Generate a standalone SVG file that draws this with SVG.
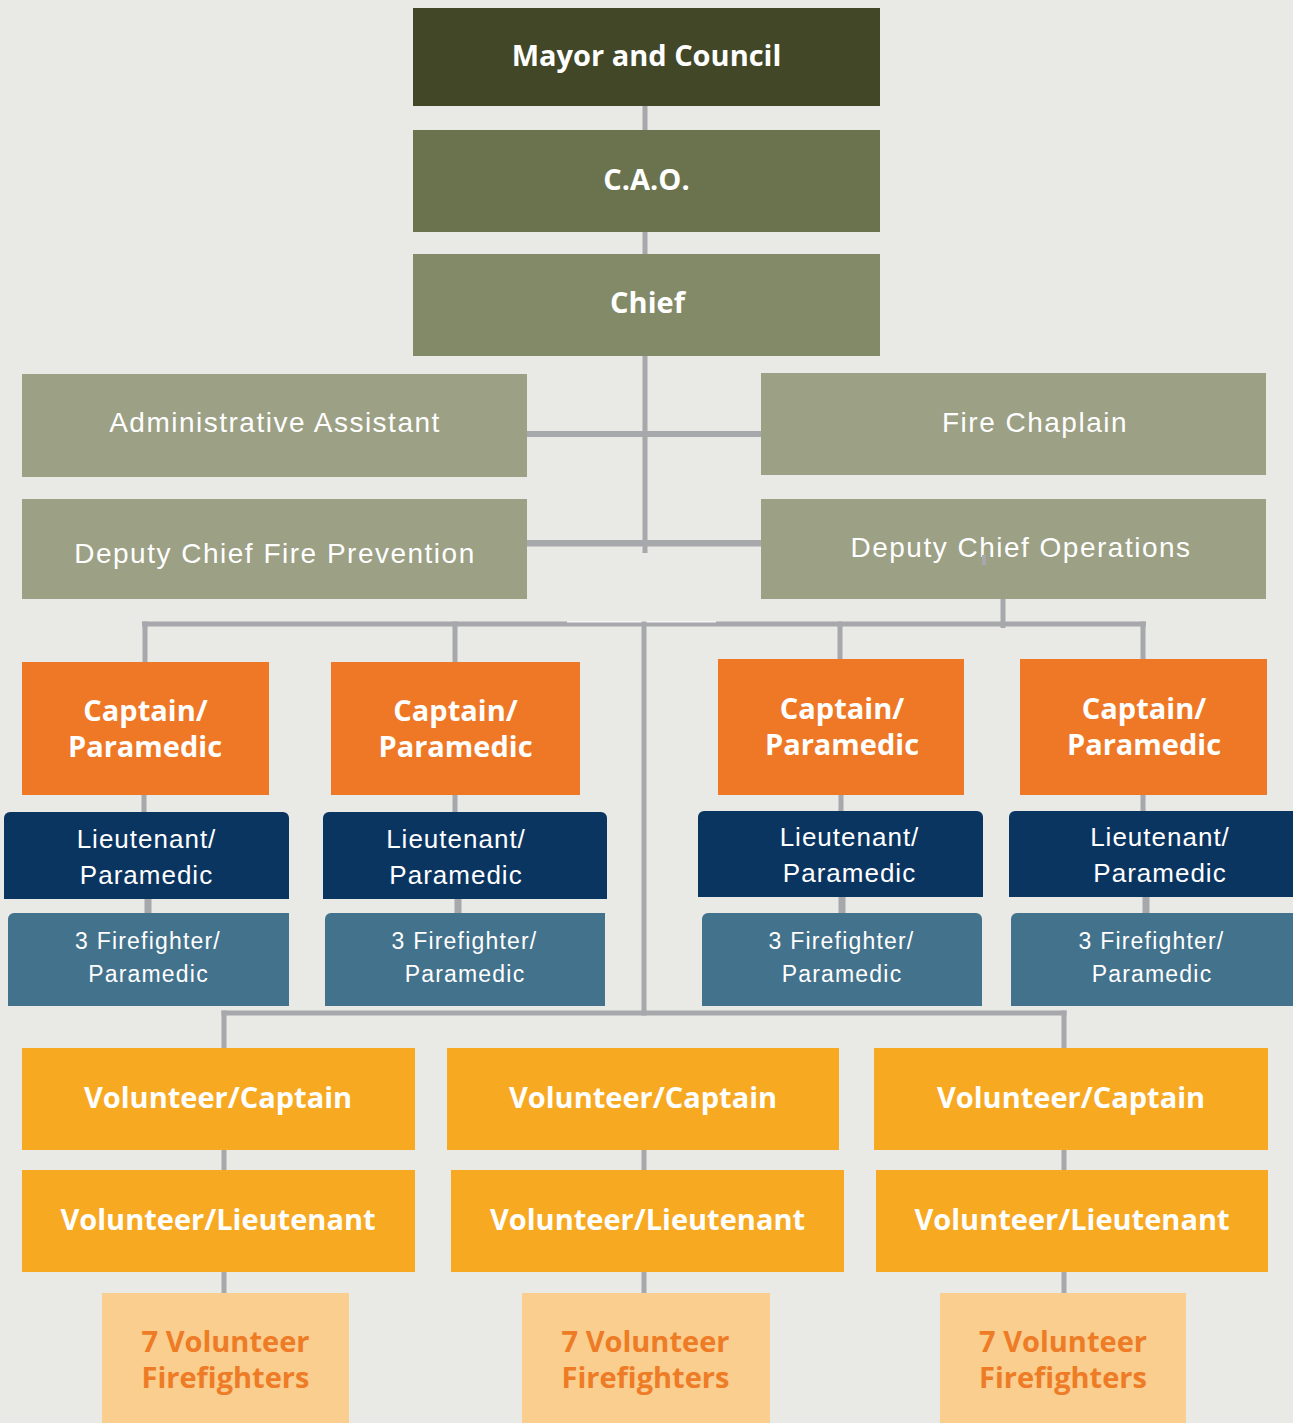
<svg xmlns="http://www.w3.org/2000/svg" width="1293" height="1423" viewBox="0 0 1293 1423">
<style>
.bold{font-family:"Open Sans","Liberation Sans",sans-serif;font-weight:700;font-size:29px;fill:#ffffff;text-anchor:middle}
.reg{font-family:"Liberation Sans","Arial",sans-serif;font-size:28px;fill:#ffffff;text-anchor:middle;letter-spacing:1.5px}
.lt{font-family:"Liberation Sans","Arial",sans-serif;font-size:26px;fill:#ffffff;text-anchor:middle;letter-spacing:1px}
.ff{font-family:"Liberation Sans","Arial",sans-serif;font-size:23px;fill:#ffffff;text-anchor:middle;letter-spacing:1.2px}
.vff{font-family:"Open Sans","Liberation Sans",sans-serif;font-weight:700;font-size:29px;fill:#ee7b25;text-anchor:middle}
.c{fill:#a7a8ac}
</style>
<rect x="0" y="0" width="1293" height="1423" fill="#e9e9e5"/>
<g id="mayor"><rect x="413" y="8" width="467" height="98" fill="#414727"/><text class="bold" x="646.5" y="66">Mayor and Council</text></g>
<g id="cao"><rect x="413" y="130" width="467" height="102" fill="#6a734d"/><text class="bold" x="646.5" y="190">C.A.O.</text></g>
<g id="chief"><rect x="413" y="254" width="467" height="102" fill="#838a68"/><text class="bold" x="647.5" y="313">Chief</text></g>
<g id="admin"><rect x="22" y="374" width="505" height="103" fill="#9ca085"/><text class="reg" x="275" y="432">Administrative Assistant</text></g>
<g id="chaplain"><rect x="761" y="373" width="505" height="102" fill="#9ca085"/><text class="reg" x="1035" y="432">Fire Chaplain</text></g>
<g id="dep-prev"><rect x="22" y="499" width="505" height="100" fill="#9ca085"/><text class="reg" x="275" y="563">Deputy Chief Fire Prevention</text></g>
<g id="dep-ops"><rect x="761" y="499" width="505" height="100" fill="#9ca085"/><text class="reg" x="1021" y="557">Deputy Chief Operations</text></g>
<g id="cap1"><rect x="22" y="662" width="247" height="133" fill="#ef7826"/><text class="bold" x="145.5" y="721">Captain/</text><text class="bold" x="145" y="757">Paramedic</text></g>
<g id="cap2"><rect x="331" y="662" width="249" height="133" fill="#ef7826"/><text class="bold" x="455.5" y="721">Captain/</text><text class="bold" x="455.5" y="757">Paramedic</text></g>
<g id="cap3"><rect x="718" y="659" width="246" height="136" fill="#ef7826"/><text class="bold" x="842" y="719">Captain/</text><text class="bold" x="842" y="755">Paramedic</text></g>
<g id="cap4"><rect x="1020" y="659" width="247" height="136" fill="#ef7826"/><text class="bold" x="1144" y="719">Captain/</text><text class="bold" x="1144" y="755">Paramedic</text></g>
<g id="lt1"><path d="M4 899V818a6 6 0 0 1 6-6H283a6 6 0 0 1 6 6V899Z" fill="#0b3561"/><text class="lt" x="146.5" y="848">Lieutenant/</text><text class="lt" x="146.5" y="884">Paramedic</text></g>
<g id="lt2"><path d="M323 899V818a6 6 0 0 1 6-6H601a6 6 0 0 1 6 6V899Z" fill="#0b3561"/><text class="lt" x="456" y="848">Lieutenant/</text><text class="lt" x="456" y="884">Paramedic</text></g>
<g id="lt3"><path d="M698 897V817a6 6 0 0 1 6-6H977a6 6 0 0 1 6 6V897Z" fill="#0b3561"/><text class="lt" x="849.5" y="846">Lieutenant/</text><text class="lt" x="849.5" y="882">Paramedic</text></g>
<g id="lt4"><path d="M1009 897V817a6 6 0 0 1 6-6H1293V897Z" fill="#0b3561"/><text class="lt" x="1160" y="846">Lieutenant/</text><text class="lt" x="1160" y="882">Paramedic</text></g>
<g id="ff1"><path d="M8 1006V919a6 6 0 0 1 6-6H289V1006Z" fill="#43728c"/><text class="ff" x="148" y="949">3 Firefighter/</text><text class="ff" x="148.5" y="982">Paramedic</text></g>
<g id="ff2"><path d="M325 1006V919a6 6 0 0 1 6-6H605V1006Z" fill="#43728c"/><text class="ff" x="464.5" y="949">3 Firefighter/</text><text class="ff" x="465" y="982">Paramedic</text></g>
<g id="ff3"><path d="M702 1006V919a6 6 0 0 1 6-6H976a6 6 0 0 1 6 6V1006Z" fill="#43728c"/><text class="ff" x="841.5" y="949">3 Firefighter/</text><text class="ff" x="842" y="982">Paramedic</text></g>
<g id="ff4"><path d="M1011 1006V919a6 6 0 0 1 6-6H1293V1006Z" fill="#43728c"/><text class="ff" x="1151.5" y="949">3 Firefighter/</text><text class="ff" x="1152" y="982">Paramedic</text></g>
<g id="vcap1"><rect x="22" y="1048" width="393" height="102" fill="#f8a922"/><text class="bold" x="218" y="1108">Volunteer/Captain</text></g>
<g id="vcap2"><rect x="447" y="1048" width="392" height="102" fill="#f8a922"/><text class="bold" x="643" y="1108">Volunteer/Captain</text></g>
<g id="vcap3"><rect x="874" y="1048" width="394" height="102" fill="#f8a922"/><text class="bold" x="1071" y="1108">Volunteer/Captain</text></g>
<g id="vlt1"><rect x="22" y="1170" width="393" height="102" fill="#f8a922"/><text class="bold" x="218" y="1230">Volunteer/Lieutenant</text></g>
<g id="vlt2"><rect x="451" y="1170" width="393" height="102" fill="#f8a922"/><text class="bold" x="647.5" y="1230">Volunteer/Lieutenant</text></g>
<g id="vlt3"><rect x="876" y="1170" width="392" height="102" fill="#f8a922"/><text class="bold" x="1072" y="1230">Volunteer/Lieutenant</text></g>
<g id="vff1"><rect x="102" y="1293" width="247" height="130" fill="#f9ce8e"/><text class="vff" x="225.5" y="1352">7 Volunteer</text><text class="vff" x="225.5" y="1388">Firefighters</text></g>
<g id="vff2"><rect x="522" y="1293" width="248" height="130" fill="#f9ce8e"/><text class="vff" x="645.5" y="1352">7 Volunteer</text><text class="vff" x="645.5" y="1388">Firefighters</text></g>
<g id="vff3"><rect x="940" y="1293" width="246" height="130" fill="#f9ce8e"/><text class="vff" x="1063" y="1352">7 Volunteer</text><text class="vff" x="1063" y="1388">Firefighters</text></g>
<g id="connectors">
<rect class="c" x="642.5" y="106" width="5" height="24"/>
<rect class="c" x="642.5" y="232" width="5" height="22"/>
<rect class="c" x="642.5" y="356" width="5" height="197"/>
<rect class="c" x="527" y="431" width="234" height="6"/>
<rect class="c" x="527" y="540" width="234" height="6.5"/>
<rect class="c" x="982" y="555" width="4" height="10"/>
<rect class="c" x="1000.5" y="599" width="5" height="29"/>
<rect class="c" x="142" y="621.5" width="1004" height="5"/>
<rect x="567" y="621" width="149" height="1.5" fill="#f4f4f2"/>
<rect class="c" x="142.5" y="621.5" width="5" height="40.5"/>
<rect class="c" x="452.5" y="621.5" width="5" height="40.5"/>
<rect class="c" x="837.5" y="621.5" width="5" height="37.5"/>
<rect class="c" x="1140.5" y="621.5" width="5" height="37.5"/>
<rect class="c" x="641.5" y="621.5" width="5" height="394"/>
<rect class="c" x="141.5" y="795" width="5" height="17"/>
<rect class="c" x="452.5" y="795" width="5" height="17"/>
<rect class="c" x="838.5" y="795" width="5" height="16"/>
<rect class="c" x="1140.5" y="795" width="5" height="16"/>
<rect class="c" x="144.5" y="899" width="7" height="14"/>
<rect class="c" x="454.5" y="899" width="7" height="14"/>
<rect class="c" x="838.5" y="897" width="7" height="16"/>
<rect class="c" x="1142.5" y="897" width="7" height="16"/>
<rect class="c" x="221.5" y="1010.5" width="845" height="5"/>
<rect class="c" x="221.5" y="1010.5" width="5" height="37.5"/>
<rect class="c" x="1061.5" y="1010.5" width="5" height="37.5"/>
<rect class="c" x="221.5" y="1150" width="5" height="20"/>
<rect class="c" x="641.5" y="1150" width="5" height="20"/>
<rect class="c" x="1061.5" y="1150" width="5" height="20"/>
<rect class="c" x="221.5" y="1272" width="5" height="21"/>
<rect class="c" x="641.5" y="1272" width="5" height="21"/>
<rect class="c" x="1061.5" y="1272" width="5" height="21"/>
</g>
</svg>
